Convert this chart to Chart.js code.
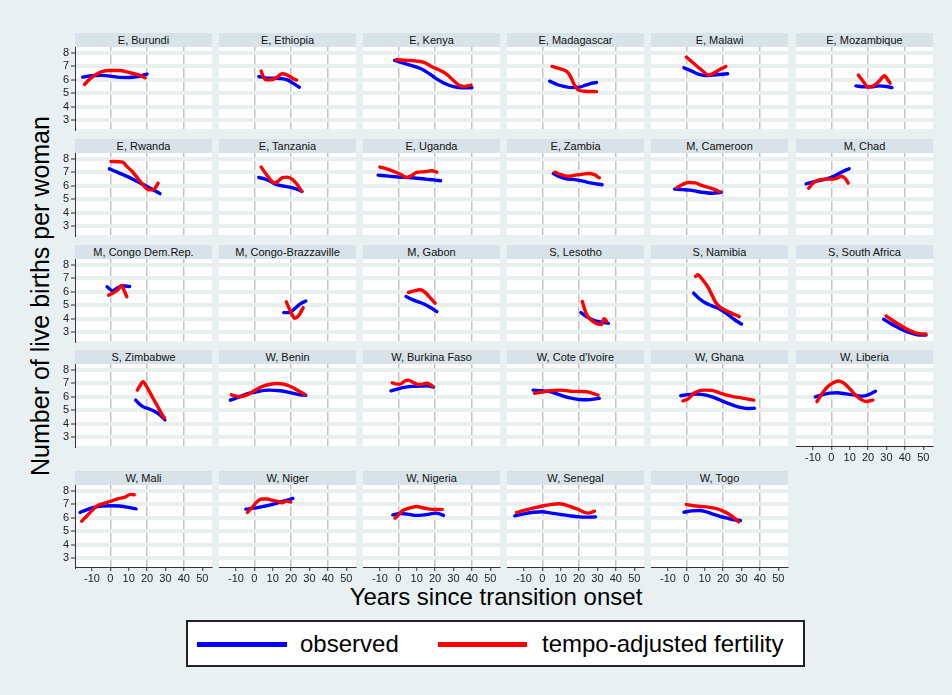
<!DOCTYPE html>
<html>
<head>
<meta charset="utf-8">
<script src="https://cdn.jsdelivr.net/npm/chart.js@4.4.1/dist/chart.umd.min.js"></script>
<style>
html,body{margin:0;padding:0;}
body{width:952px;height:695px;background:#e9f0f1;position:relative;overflow:hidden;font-family:"Liberation Sans",Arial,sans-serif;}
.hdr{position:absolute;background:#d8e3e9;color:#111;font-size:11px;text-align:center;line-height:14px;height:14px;white-space:nowrap;}
canvas{position:absolute;}
#ytitle{position:absolute;left:-160px;top:281px;width:400px;height:30px;line-height:30px;text-align:center;font-size:25px;color:#000;transform:rotate(-90deg);transform-origin:center center;white-space:nowrap;}
#xtitle{position:absolute;left:296px;top:584px;width:400px;height:26px;line-height:26px;text-align:center;font-size:24px;color:#000;white-space:nowrap;}
#legend{position:absolute;left:186px;top:620px;width:619px;height:47px;box-sizing:border-box;border:2px solid #222;background:#fff;}
.lg-line{position:absolute;height:5px;top:20px;}
.lg-text{position:absolute;top:9px;font-size:24px;line-height:26px;color:#000;white-space:nowrap;}
</style>
</head>
<body>
<div id="ytitle">Number of live births per woman</div>
<div id="xtitle">Years since transition onset</div>
<div id="legend">
  <div class="lg-line" style="left:9px;width:90px;background:#0000ff;"></div>
  <div class="lg-text" style="left:112px;">observed</div>
  <div class="lg-line" style="left:250px;width:89px;background:#ff0000;"></div>
  <div class="lg-text" style="left:354px;">tempo-adjusted fertility</div>
</div>
<script>
// ---------------- DATA ----------------
const panelTitles = [
  "E, Burundi","E, Ethiopia","E, Kenya","E, Madagascar","E, Malawi","E, Mozambique",
  "E, Rwanda","E, Tanzania","E, Uganda","E, Zambia","M, Cameroon","M, Chad",
  "M, Congo Dem.Rep.","M, Congo-Brazzaville","M, Gabon","S, Lesotho","S, Namibia","S, South Africa",
  "S, Zimbabwe","W, Benin","W, Burkina Faso","W, Cote d'Ivoire","W, Ghana","W, Liberia",
  "W, Mali","W, Niger","W, Nigeria","W, Senegal","W, Togo"
];

const xTickValues = [-10, 0, 10, 20, 30, 40, 50];
const yTickValues = [3, 4, 5, 6, 7, 8];

// observed TFR, [years since onset, births per woman]
const observed = [
  [[-15,6.2],[-10,6.3],[-5,6.33],[0,6.28],[5,6.18],[10,6.17],[15,6.25],[20,6.42]],
  [[2.5,6.25],[6,6.15],[10,6.12],[14,6.1],[18,6.0],[21,5.75],[24.5,5.45]],
  [[-2,7.45],[5,7.15],[12,6.85],[17,6.45],[21,6.05],[25,5.75],[30,5.5],[35,5.4],[40,5.42]],
  [[4,5.9],[8,5.65],[12,5.5],[16,5.42],[20,5.45],[24,5.62],[27,5.75],[29.5,5.8]],
  [[-1.3,6.9],[3,6.65],[7,6.4],[10,6.32],[14,6.35],[18,6.4],[22.5,6.45]],
  [[13.4,5.55],[18,5.48],[22,5.48],[26,5.55],[30,5.5],[33,5.42]],
  [[-0.5,7.27],[5,6.95],[10,6.65],[15,6.3],[20,5.95],[24,5.65],[27,5.42]],
  [[2.4,6.62],[6,6.5],[9,6.3],[12,6.1],[16,5.98],[20,5.88],[23,5.75],[26,5.58]],
  [[-11,6.8],[-5,6.72],[0,6.65],[5,6.62],[10,6.57],[15,6.5],[20,6.43],[23,6.38]],
  [[6,6.92],[9,6.7],[13,6.52],[17,6.48],[22,6.35],[27,6.2],[32.5,6.08]],
  [[-6.4,5.75],[-2,5.72],[2,5.68],[6,5.58],[10,5.5],[14,5.45],[17,5.48],[19,5.52]],
  [[-13.7,6.15],[-8,6.35],[-3,6.5],[2,6.75],[6,7.05],[9.7,7.28]],
  [[-1.8,6.38],[1.3,6.08],[4,6.3],[6.5,6.45],[10.5,6.4]],
  [[16,4.45],[19,4.45],[22,4.75],[25,5.1],[28,5.32]],
  [[4.2,5.65],[8,5.4],[12,5.2],[16,4.95],[21,4.52]],
  [[21,4.45],[24,4.15],[28,3.88],[32,3.75],[36,3.65]],
  [[4,5.9],[7,5.5],[10,5.2],[14,4.95],[18,4.72],[22,4.38],[26,3.95],[30,3.6]],
  [[28.5,3.95],[32,3.65],[36,3.35],[40,3.08],[44,2.9],[48,2.78],[51.5,2.78]],
  [[13.8,5.75],[16,5.45],[18,5.25],[21,5.1],[24,4.92],[27,4.65],[29.7,4.28]],
  [[-13,5.75],[-8,6.0],[-3,6.25],[2,6.4],[8,6.5],[14,6.45],[20,6.3],[25,6.15],[28,6.12]],
  [[-4,6.45],[0,6.6],[4,6.72],[8,6.78],[12,6.8],[16,6.82],[19,6.72]],
  [[-5,6.5],[0,6.45],[5,6.35],[10,6.12],[15,5.92],[20,5.8],[25,5.78],[28,5.83],[31,5.88]],
  [[-3,6.08],[2,6.18],[6,6.2],[10,6.15],[14,6.0],[18,5.78],[22,5.55],[26,5.35],[30,5.2],[34,5.13],[37,5.15]],
  [[-8.7,6.0],[-5,6.15],[-1,6.28],[3,6.3],[8,6.22],[13,6.12],[17,6.05],[20,6.15],[24,6.42]],
  [[-16.5,6.4],[-13,6.6],[-9,6.78],[-5,6.87],[0,6.9],[5,6.88],[10,6.78],[14,6.67]],
  [[-4.6,6.65],[0,6.72],[5,6.85],[10,7.0],[15,7.2],[21,7.45]],
  [[-3,6.22],[1,6.32],[5,6.28],[9,6.18],[13,6.2],[17,6.28],[20,6.35],[22.5,6.3],[24.6,6.18]],
  [[-15,6.15],[-10,6.3],[-5,6.42],[0,6.45],[5,6.35],[10,6.25],[15,6.15],[20,6.07],[25,6.05],[29,6.07]],
  [[-1.3,6.42],[3,6.52],[7,6.55],[11,6.45],[15,6.25],[19,6.08],[23,5.95],[26,5.85],[29.4,5.8]]
];

// tempo-adjusted fertility
const tempoAdjusted = [
  [[-14,5.65],[-12,5.95],[-9,6.3],[-5,6.6],[0,6.7],[5,6.7],[10,6.55],[15,6.38],[19,6.15]],
  [[3.7,6.65],[5,6.2],[6.5,6.0],[9,6.0],[12,6.15],[15,6.45],[18,6.35],[21,6.1],[23,5.98]],
  [[-1,7.5],[5,7.45],[10,7.4],[14,7.3],[18,7.0],[22,6.75],[26,6.45],[30,5.95],[33,5.6],[36,5.5],[39.5,5.6]],
  [[5.3,7.0],[9,6.85],[13.5,6.6],[15.5,6.2],[17.5,5.6],[19.5,5.25],[23,5.15],[29.5,5.12]],
  [[0,7.7],[3,7.35],[6,7.0],[9,6.65],[12,6.35],[15,6.5],[18,6.75],[21.5,7.0]],
  [[14.7,6.35],[17,5.95],[20,5.45],[23,5.55],[26,5.9],[29,6.3],[30.5,6.05],[32,5.75]],
  [[0.4,7.82],[4,7.8],[6.8,7.77],[9,7.45],[12,7.05],[15,6.55],[18,6.05],[20.5,5.72],[23,5.7],[25,5.95],[26,6.2]],
  [[3.7,7.4],[6,6.95],[8.5,6.5],[11,6.22],[13,6.35],[15,6.6],[18,6.65],[21,6.45],[23,6.15],[25.7,5.6]],
  [[-10,7.4],[-6,7.25],[-2,7.05],[2,6.8],[4.5,6.62],[7,6.75],[10,7.0],[14,7.05],[18,7.12],[21,7.02]],
  [[6.8,7.02],[10,6.85],[14,6.72],[18,6.8],[22,6.87],[25,6.92],[28,6.85],[31,6.6]],
  [[-5,5.88],[-2,6.1],[1,6.25],[5,6.22],[8,6.05],[12,5.88],[15,5.75],[18.3,5.55]],
  [[-12.3,5.82],[-10,6.2],[-7,6.42],[-3,6.5],[1,6.5],[4,6.62],[5.5,6.72],[7.5,6.55],[9.2,6.2]],
  [[-0.9,5.75],[2,5.95],[4.5,6.2],[6.2,6.48],[7.5,6.1],[9,5.63]],
  [[17.4,5.25],[19,4.75],[20.5,4.3],[22,4.02],[24,4.2],[26.6,4.82]],
  [[5.5,5.95],[8,6.05],[12,6.15],[15,5.9],[18,5.45],[20,5.15]],
  [[21.8,5.28],[23,4.7],[24.5,4.2],[27,3.85],[30,3.6],[32,3.55],[33.6,4.0],[35,3.8]],
  [[5,7.15],[6.4,7.28],[8,7.05],[10,6.7],[12,6.3],[14,5.75],[16,5.2],[18,4.9],[21,4.65],[24,4.45],[28.8,4.15]],
  [[29.8,4.2],[33,3.9],[37,3.55],[41,3.22],[45,2.98],[48,2.87],[51.5,2.85]],
  [[14.7,6.5],[16,6.8],[17.8,7.12],[20,6.7],[23,5.95],[25.5,5.35],[28,4.7],[29.5,4.42]],
  [[-12.5,6.15],[-8,6.02],[-4,6.15],[0,6.45],[4,6.75],[8,6.92],[12,7.0],[16,6.95],[20,6.75],[24,6.45],[27.5,6.18]],
  [[-3.3,7.05],[-1,6.95],[1,6.95],[3.5,7.18],[5.5,7.25],[8,7.08],[11,6.92],[13.5,6.95],[15.5,7.02],[17.5,6.9],[18.7,6.78]],
  [[-4.2,6.27],[0,6.35],[4,6.45],[10,6.5],[15,6.42],[20,6.4],[24,6.38],[27,6.28],[30.3,6.12]],
  [[-1.8,5.7],[1,5.85],[4,6.25],[7,6.45],[10,6.5],[14,6.48],[18,6.3],[22,6.12],[26,6.0],[30,5.92],[34,5.82],[36.7,5.75]],
  [[-7.8,5.65],[-5,6.25],[-2,6.75],[1,7.05],[4,7.18],[7,7.0],[10,6.6],[13,6.15],[16,5.82],[19,5.65],[22.6,5.75]],
  [[-15.6,5.75],[-13,6.1],[-10,6.55],[-7,6.9],[-3,7.1],[0,7.22],[4,7.42],[8,7.55],[11,7.75],[13,7.72]],
  [[-3.7,6.4],[-1,6.8],[1.5,7.2],[4,7.4],[7,7.4],[10,7.3],[13,7.22],[15,7.12],[17.5,7.25],[19.8,7.18]],
  [[-1.8,5.98],[0,6.2],[2,6.5],[5,6.68],[8,6.8],[10,6.85],[13,6.75],[17,6.65],[20,6.62],[23.9,6.63]],
  [[-14,6.4],[-10,6.55],[-5,6.72],[0,6.88],[5,7.0],[9,7.05],[13,6.95],[17,6.75],[20,6.6],[23,6.4],[25,6.35],[28.4,6.5]],
  [[0,7.0],[4,6.9],[8,6.85],[12,6.8],[16,6.7],[20,6.5],[23,6.28],[26,6.0],[28.4,5.7]]
];

// ---------------- LAYOUT ----------------
const FONT = '"Liberation Sans", Arial, sans-serif';
const COL0 = 75, COLSTEP = 144.1, PW = 137;
const rowTops = [33, 139, 245, 350, 471];
const HDR = 14, PH = 82;
const PADL = 40, PADR = 13, PADT = 10, PADB = 25;

const whiteBg = {
  id: 'whiteBg',
  beforeDraw(chart) {
    const a = chart.chartArea, c = chart.ctx;
    c.save(); c.fillStyle = '#ffffff';
    c.fillRect(a.left, a.top, a.right - a.left, a.bottom - a.top);
    c.restore();
  }
};

panelTitles.forEach((title, i) => {
  const r = Math.floor(i / 6), col = i % 6;
  const left = Math.round(COL0 + col * COLSTEP);
  const top = rowTops[r];
  const isLeft = col === 0;
  const isBottom = r === 4 || (r === 3 && col === 5);

  const h = document.createElement('div');
  h.className = 'hdr';
  h.style.left = left + 'px'; h.style.top = top + 'px'; h.style.width = PW + 'px';
  h.textContent = title;
  document.body.appendChild(h);

  const cv = document.createElement('canvas');
  const W = PADL + PW + PADR, H = PADT + PH + PADB;
  cv.width = W; cv.height = H;
  cv.style.left = (left - PADL) + 'px';
  cv.style.top = (top + HDR - PADT) + 'px';
  cv.style.width = W + 'px'; cv.style.height = H + 'px';
  document.body.appendChild(cv);

  const toPts = arr => arr.map(p => ({ x: p[0], y: p[1] }));
  new Chart(cv, {
    type: 'line',
    data: {
      datasets: [
        { label: 'tempo-adjusted fertility', data: toPts(tempoAdjusted[i]), borderColor: '#ff0000',
          borderWidth: 3.4, pointRadius: 0, cubicInterpolationMode: 'monotone', fill: false, borderCapStyle: 'round' },
        { label: 'observed', data: toPts(observed[i]), borderColor: '#0000ff',
          borderWidth: 3.4, pointRadius: 0, cubicInterpolationMode: 'monotone', fill: false, borderCapStyle: 'round' }
      ]
    },
    options: {
      responsive: false, animation: false, events: [],
      layout: { padding: { left: 0, right: PADR, top: PADT, bottom: 0 } },
      plugins: { legend: { display: false }, tooltip: { enabled: false }, title: { display: false } },
      scales: {
        x: {
          type: 'linear', min: -19.2, max: 55.3,
          afterBuildTicks: s => { s.ticks = xTickValues.map(v => ({ value: v })); },
          afterFit: s => { s.height = PADB; },
          grid: {
            z: -2, lineWidth: 1.5,
            color: ctx => (ctx.tick && ctx.tick.value % 20 === 0) ? '#c4c4c4' : 'rgba(0,0,0,0)',
            drawTicks: isBottom, tickLength: 4, tickColor: '#333', tickWidth: 1
          },
          border: { display: isBottom, color: '#333', width: 1 },
          ticks: { display: isBottom, autoSkip: false, maxRotation: 0, padding: 1,
                   color: '#222', font: { family: FONT, size: 11 } }
        },
        y: {
          type: 'linear', min: 2.33, max: 8.45,
          afterBuildTicks: s => { s.ticks = yTickValues.map(v => ({ value: v })); },
          afterFit: s => { s.width = PADL; },
          grid: { z: -1, lineWidth: 4, color: '#e9eeef',
                  drawTicks: isLeft, tickLength: 4, tickColor: '#333', tickWidth: 1 },
          border: { display: isLeft, color: '#333', width: 1 },
          ticks: { display: isLeft, padding: 2, color: '#222', font: { family: FONT, size: 11 } }
        }
      }
    },
    plugins: [whiteBg]
  });
});
</script>
</body>
</html>
